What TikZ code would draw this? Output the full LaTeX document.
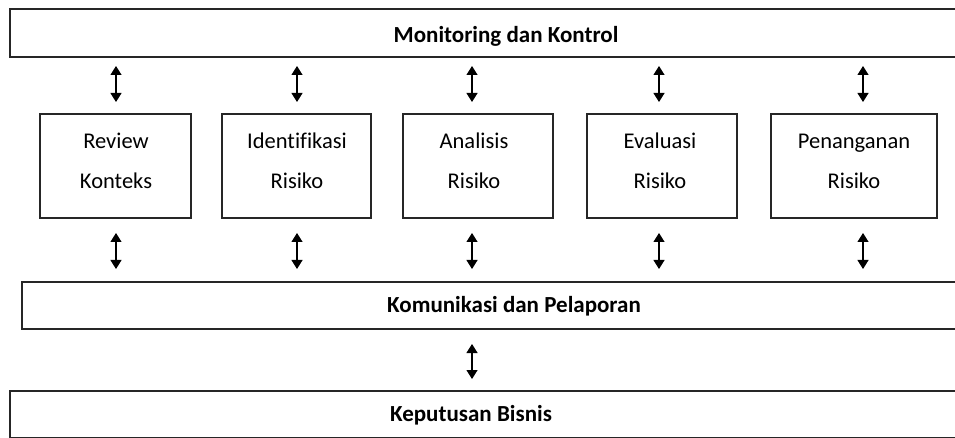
\documentclass[tikz,border=0pt]{standalone}
\usepackage{fontspec}
\setmainfont[Ligatures=NoCommon]{Carlito}
\usetikzlibrary{arrows.meta}
\begin{document}
\begin{tikzpicture}[x=1pt,y=-1pt,
  widebox/.style={draw=black!85,line width=1.2pt,rectangle,inner sep=0pt},
  smallbox/.style={draw=black!85,line width=1.2pt,rectangle,inner sep=0pt,minimum height=104pt},
  lbl/.style={font=\fontsize{22.5}{40}\selectfont,align=center,inner sep=0pt},
  blbl/.style={font=\fontsize{23}{26}\selectfont\bfseries,inner sep=0pt},
  dblarrow/.style={line width=1.2pt,{Triangle[width=11pt,length=9pt]}-{Triangle[width=11pt,length=9pt]}}
]
\useasboundingbox (0,0) rectangle (955,438);
\begin{scope}
\clip (0,0) rectangle (955,438);
% wide boxes
\draw[widebox] (10,9) rectangle (970,57);
\draw[widebox] (22,282) rectangle (970,329);
\draw[widebox] (10,391) rectangle (970,437.4);
\end{scope}
\node[blbl] (mon) at (506,36) {Monitoring dan Kontrol};
\node[blbl] (kom) at (514,306) {Komunikasi dan Pelaporan};
\node[blbl] (kep) at (471,415) {Keputusan Bisnis};
% small boxes
\node[smallbox,minimum width=151pt] (b1) at (115.5,166) {};
\node[smallbox,minimum width=149pt] (b2) at (296.5,166) {};
\node[smallbox,minimum width=150pt] (b3) at (478,166) {};
\node[smallbox,minimum width=150pt] (b4) at (662,166) {};
\node[smallbox,minimum width=166pt] (b5) at (854,166) {};
\node[lbl] (t1) at (116,161) {Review\\Konteks};
\node[lbl] (t2) at (297,161) {Identifikasi\\Risiko};
\node[lbl] (t3) at (474,161) {Analisis\\Risiko};
\node[lbl] (t4) at (660,161) {Evaluasi\\Risiko};
\node[lbl] (t5) at (854,161) {Penanganan\\Risiko};
% arrow end coordinates
\foreach \i/\x in {1/116,2/297,3/472,4/659,5/863}{
  \coordinate (ua\i) at (\x,66);
  \coordinate (ub\i) at (\x,102);
  \coordinate (la\i) at (\x,233);
  \coordinate (lb\i) at (\x,269);
  \draw[dblarrow] (ua\i) -- (ub\i);
  \draw[dblarrow] (la\i) -- (lb\i);
}
\coordinate (ka) at (472,344);
\coordinate (kb) at (472,379);
\draw[dblarrow] (ka) -- (kb);
\end{tikzpicture}
\end{document}
